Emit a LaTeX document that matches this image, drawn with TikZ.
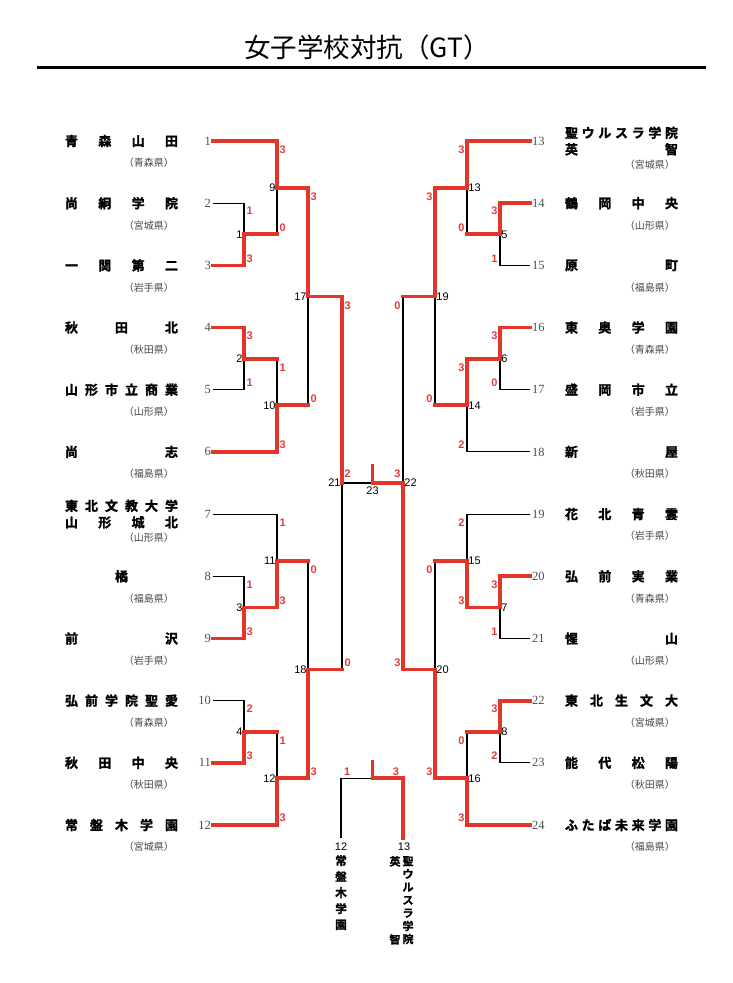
\documentclass[tikz,border=0pt]{standalone}
\usepackage{fontspec}
\usetikzlibrary{calc}
\newfontfamily\jp{Noto Sans CJK JP}[BoldFont={Noto Sans CJK JP Bold},BoldFeatures={FakeBold=1.6}]
\newfontfamily\numserif{Liberation Serif}
\newfontfamily\numsans{Liberation Sans}
\definecolor{wred}{RGB}{226,54,42}
\definecolor{sred}{RGB}{222,62,62}
\definecolor{numgray}{RGB}{80,80,80}
\definecolor{prefgray}{RGB}{70,70,70}
\newcommand\tnm[1]{\makebox[113pt][s]{#1}}
\newcommand\bm[3]{\draw[thinln] (#1) -- (#1 -| #3) -- (#2 -| #3) -- (#2);}
\newcommand\lsc[4]{\node[score,anchor=west] at ($(#1 -| #2)+(1.5,#3)$) {#4};}
\newcommand\rsc[4]{\node[score,anchor=east] at ($(#1 -| #2)+(-1.5,#3)$) {#4};}
\begin{document}
\begin{tikzpicture}[x=1pt,y=-1pt,
  thinln/.style={line width=1.1pt,black},
  winln/.style={line width=3.8pt,wred,line cap=rect,line join=miter},
  tnum/.style={font=\numserif\fontsize{12.5}{13}\selectfont,text=numgray,inner sep=1pt},
  mnum/.style={font=\numsans\fontsize{11}{12}\selectfont,inner sep=1.2pt},
  score/.style={font=\numsans\bfseries\fontsize{11}{12}\selectfont,text=sred,inner sep=0.8pt},
  tname/.style={font=\jp\bfseries\fontsize{13}{16.5}\selectfont,inner sep=0pt,align=center},
  pref/.style={font=\jp\fontsize{10}{11}\selectfont,text=prefgray,inner sep=0pt},
  vtxt/.style={font=\jp\bfseries\fontsize{11.5}{16}\selectfont,inner sep=0pt,align=center},
]
\useasboundingbox (0,0) rectangle (732,983);
\fill[white] (0,0) rectangle (732,983);
% title
\node[font=\jp\fontsize{26.5}{28}\selectfont,inner sep=0pt] (title) at (367,47) {女子学校対抗（GT）};
\draw[line width=3pt] (37,67) coordinate (ruleL) -- (706,67) coordinate (ruleR);

% team end points
\coordinate (t1) at (213,141);   \coordinate (t2) at (213,203.2); \coordinate (t3) at (213,265.4);
\coordinate (t4) at (213,327.5); \coordinate (t5) at (213,389.7); \coordinate (t6) at (213,451.9);
\coordinate (t7) at (213,514.1); \coordinate (t8) at (213,576.3); \coordinate (t9) at (213,638.5);
\coordinate (t10) at (213,700.6); \coordinate (t11) at (213,762.8); \coordinate (t12) at (213,825);
\coordinate (t13) at (530,141);   \coordinate (t14) at (530,203.2); \coordinate (t15) at (530,265.4);
\coordinate (t16) at (530,327.5); \coordinate (t17) at (530,389.7); \coordinate (t18) at (530,451.9);
\coordinate (t19) at (530,514.1); \coordinate (t20) at (530,576.3); \coordinate (t21) at (530,638.5);
\coordinate (t22) at (530,700.6); \coordinate (t23) at (530,762.8); \coordinate (t24) at (530,825);
% junctions
\coordinate (m1) at (244,234.3); \coordinate (m2) at (244,358.6); \coordinate (m3) at (244,607.4); \coordinate (m4) at (244,731.7);
\coordinate (m9) at (277,187.65); \coordinate (m10) at (277,405.25); \coordinate (m11) at (277,560.75); \coordinate (m12) at (277,778.35);
\coordinate (m17) at (308,296.45); \coordinate (m18) at (308,669.55); \coordinate (m21) at (342,483);
\coordinate (m5) at (500,234.3); \coordinate (m6) at (500,358.6); \coordinate (m7) at (500,607.4); \coordinate (m8) at (500,731.7);
\coordinate (m13) at (467,187.65); \coordinate (m14) at (467,405.25); \coordinate (m15) at (467,560.75); \coordinate (m16) at (467,778.35);
\coordinate (m19) at (435,296.45); \coordinate (m20) at (435,669.55); \coordinate (m22) at (403,483);
\coordinate (m23) at (372.5,483); \coordinate (w23) at (372.5,466);
\coordinate (tp) at (372.5,778.35); \coordinate (tpw) at (372.5,762);
\coordinate (q12) at (341,838); \coordinate (q13) at (403,838);

% black lines
\bm{t2}{t3}{m1} \bm{t4}{t5}{m2} \bm{t8}{t9}{m3} \bm{t10}{t11}{m4}
\bm{t1}{m1}{m9} \bm{m2}{t6}{m10} \bm{t7}{m3}{m11} \bm{m4}{t12}{m12}
\bm{m9}{m10}{m17} \bm{m11}{m12}{m18} \bm{m17}{m18}{m21}
\bm{t14}{t15}{m5} \bm{t16}{t17}{m6} \bm{t20}{t21}{m7} \bm{t22}{t23}{m8}
\bm{t13}{m5}{m13} \bm{m6}{t18}{m14} \bm{t19}{m7}{m15} \bm{m8}{t24}{m16}
\bm{m13}{m14}{m19} \bm{m15}{m16}{m20} \bm{m19}{m20}{m22}
\draw[thinln] (m21) -- (m22);
\draw[thinln] (q12) -- (q12 |- tp) -- (q13 |- tp) -- (q13);

% red lines
\draw[winln] (t1) -- (t1 -| m9) -- (m9) -- (m9 -| m17) -- (m17) -- (m17 -| m21) -- (m21);
\draw[winln] (t3) -- (t3 -| m1) -- (m1) -- (m1 -| m9);
\draw[winln] (t4) -- (t4 -| m2) -- (m2) -- (m2 -| m10);
\draw[winln] (t6) -- (t6 -| m10) -- (m10) -- (m10 -| m17);
\draw[winln] (t9) -- (t9 -| m3) -- (m3) -- (m3 -| m11) -- (m11) -- (m11 -| m18);
\draw[winln] (t11) -- (t11 -| m4) -- (m4) -- (m4 -| m12);
\draw[winln] (t12) -- (t12 -| m12) -- (m12) -- (m12 -| m18) -- (m18) -- (m18 -| m21);
\draw[winln] (t13) -- (t13 -| m13) -- (m13) -- (m13 -| m19) -- (m19) -- (m19 -| m22);
\draw[winln] (t14) -- (t14 -| m5) -- (m5) -- (m5 -| m13);
\draw[winln] (t16) -- (t16 -| m6) -- (m6) -- (m6 -| m14) -- (m14) -- (m14 -| m19);
\draw[winln] (t20) -- (t20 -| m7) -- (m7) -- (m7 -| m15) -- (m15) -- (m15 -| m20);
\draw[winln] (t22) -- (t22 -| m8) -- (m8) -- (m8 -| m16);
\draw[winln] (t24) -- (t24 -| m16) -- (m16) -- (m16 -| m20) -- (m20) -- (m20 -| m22) -- (m22) -- (m23) -- (w23);
\draw[winln] (q13) -- (q13 |- tp) -- (tp) -- (tpw);

% scores left
\lsc{t2}{m1}{8}{1} \lsc{t3}{m1}{-7}{3}
\lsc{t1}{m9}{9}{3} \lsc{m1}{m9}{-7}{0}
\lsc{t4}{m2}{8}{3} \lsc{t5}{m2}{-7}{1}
\lsc{m2}{m10}{9}{1} \lsc{t6}{m10}{-7}{3}
\lsc{m9}{m17}{9}{3} \lsc{m10}{m17}{-7}{0}
\lsc{t8}{m3}{8}{1} \lsc{t9}{m3}{-7}{3}
\lsc{t7}{m11}{9}{1} \lsc{m3}{m11}{-7}{3}
\lsc{t10}{m4}{8}{2} \lsc{t11}{m4}{-7}{3}
\lsc{m4}{m12}{9}{1} \lsc{t12}{m12}{-7}{3}
\lsc{m11}{m18}{9}{0} \lsc{m12}{m18}{-7}{3}
\lsc{m17}{m21}{9}{3} \lsc{m18}{m21}{-7}{0}
% scores right
\rsc{t14}{m5}{8}{3} \rsc{t15}{m5}{-7}{1}
\rsc{t13}{m13}{9}{3} \rsc{m5}{m13}{-7}{0}
\rsc{t16}{m6}{8}{3} \rsc{t17}{m6}{-7}{0}
\rsc{m6}{m14}{9}{3} \rsc{t18}{m14}{-7}{2}
\rsc{m13}{m19}{9}{3} \rsc{m14}{m19}{-7}{0}
\rsc{t20}{m7}{8}{3} \rsc{t21}{m7}{-7}{1}
\rsc{t19}{m15}{9}{2} \rsc{m7}{m15}{-7}{3}
\rsc{t22}{m8}{8}{3} \rsc{t23}{m8}{-7}{2}
\rsc{m8}{m16}{9}{0} \rsc{t24}{m16}{-7}{3}
\rsc{m15}{m20}{9}{0} \rsc{m16}{m20}{-7}{3}
\rsc{m19}{m22}{9}{0} \rsc{m20}{m22}{-7}{3}
% final and third place scores
\node[score,anchor=west] at ($(m21)+(1.5,-9)$) {2};
\node[score,anchor=east] at ($(m22)+(-1.5,-9)$) {3};
\node[score,anchor=west] at ($(q12 |- tp)+(2,-7)$) {1};
\node[score,anchor=east] at ($(q13 |- tp)+(-3,-7)$) {3};

% match numbers
\foreach \m in {1,2,3,4,9,10,11,12,17,18,21} \node[mnum,anchor=east] (lm\m) at (m\m) {\m};
\foreach \m in {5,6,7,8,13,14,15,16,19,20,22} \node[mnum,anchor=west] (rm\m) at (m\m) {\m};
\node[mnum,anchor=north] (lm23) at ($(m23)+(0,2)$) {23};

% team numbers
\foreach \t in {1,...,12} \node[tnum,anchor=east] (n\t) at ($(t\t)+(-1,0)$) {\t};
\foreach \t in {13,...,24} \node[tnum,anchor=west] (n\t) at ($(t\t)+(1,0)$) {\t};

% left names
\node[tname] (a1) at (121.5,141) {\tnm{青\hfill 森\hfill 山\hfill 田}};
\node[tname] (a2) at (121.5,203.2) {\tnm{尚\hfill 絅\hfill 学\hfill 院}};
\node[tname] (a3) at (121.5,265.4) {\tnm{一\hfill 関\hfill 第\hfill 二}};
\node[tname] (a4) at (121.5,327.5) {\tnm{秋\hfill 田\hfill 北}};
\node[tname] (a5) at (121.5,389.7) {\tnm{山\hfill 形\hfill 市\hfill 立\hfill 商\hfill 業}};
\node[tname] (a6) at (121.5,451.9) {\tnm{尚\hfill 志}};
\node[tname] (a7) at (121.5,514.1) {\tnm{東\hfill 北\hfill 文\hfill 教\hfill 大\hfill 学}\\\tnm{山\hfill 形\hfill 城\hfill 北}};
\node[tname] (a8) at (121.5,576.3) {橘};
\node[tname] (a9) at (121.5,638.5) {\tnm{前\hfill 沢}};
\node[tname] (a10) at (121.5,700.6) {\tnm{弘\hfill 前\hfill 学\hfill 院\hfill 聖\hfill 愛}};
\node[tname] (a11) at (121.5,762.8) {\tnm{秋\hfill 田\hfill 中\hfill 央}};
\node[tname] (a12) at (121.5,825) {\tnm{常\hfill 盤\hfill 木\hfill 学\hfill 園}};
% right names
\node[tname] (a13) at (621.5,141) {\tnm{聖\hfill ウ\hfill ル\hfill ス\hfill ラ\hfill 学\hfill 院}\\\tnm{英\hfill 智}};
\node[tname] (a14) at (621.5,203.2) {\tnm{鶴\hfill 岡\hfill 中\hfill 央}};
\node[tname] (a15) at (621.5,265.4) {\tnm{原\hfill 町}};
\node[tname] (a16) at (621.5,327.5) {\tnm{東\hfill 奥\hfill 学\hfill 園}};
\node[tname] (a17) at (621.5,389.7) {\tnm{盛\hfill 岡\hfill 市\hfill 立}};
\node[tname] (a18) at (621.5,451.9) {\tnm{新\hfill 屋}};
\node[tname] (a19) at (621.5,514.1) {\tnm{花\hfill 北\hfill 青\hfill 雲}};
\node[tname] (a20) at (621.5,576.3) {\tnm{弘\hfill 前\hfill 実\hfill 業}};
\node[tname] (a21) at (621.5,638.5) {\tnm{惺\hfill 山}};
\node[tname] (a22) at (621.5,700.6) {\tnm{東\hfill 北\hfill 生\hfill 文\hfill 大}};
\node[tname] (a23) at (621.5,762.8) {\tnm{能\hfill 代\hfill 松\hfill 陽}};
\node[tname] (a24) at (621.5,825) {\tnm{ふ\hfill た\hfill ば\hfill 未\hfill 来\hfill 学\hfill 園}};

% prefectures
\node[pref,anchor=east] (p1) at (174,163) {（青森県）};
\node[pref,anchor=east] (p2) at (174,225.2) {（宮城県）};
\node[pref,anchor=east] (p3) at (174,287.4) {（岩手県）};
\node[pref,anchor=east] (p4) at (174,349.5) {（秋田県）};
\node[pref,anchor=east] (p5) at (174,411.7) {（山形県）};
\node[pref,anchor=east] (p6) at (174,473.9) {（福島県）};
\node[pref,anchor=east] (p7) at (174,538) {（山形県）};
\node[pref,anchor=east] (p8) at (174,598.3) {（福島県）};
\node[pref,anchor=east] (p9) at (174,660.5) {（岩手県）};
\node[pref,anchor=east] (p10) at (174,722.6) {（青森県）};
\node[pref,anchor=east] (p11) at (174,784.8) {（秋田県）};
\node[pref,anchor=east] (p12) at (174,847) {（宮城県）};
\node[pref,anchor=east] (p13) at (675,165) {（宮城県）};
\node[pref,anchor=east] (p14) at (675,225.2) {（山形県）};
\node[pref,anchor=east] (p15) at (675,287.4) {（福島県）};
\node[pref,anchor=east] (p16) at (675,349.5) {（青森県）};
\node[pref,anchor=east] (p17) at (675,411.7) {（岩手県）};
\node[pref,anchor=east] (p18) at (675,473.9) {（秋田県）};
\node[pref,anchor=east] (p19) at (675,536.1) {（岩手県）};
\node[pref,anchor=east] (p20) at (675,598.3) {（青森県）};
\node[pref,anchor=east] (p21) at (675,660.5) {（山形県）};
\node[pref,anchor=east] (p22) at (675,722.6) {（宮城県）};
\node[pref,anchor=east] (p23) at (675,784.8) {（秋田県）};
\node[pref,anchor=east] (p24) at (675,847) {（福島県）};

% third place labels
\node[mnum,anchor=north] (b12) at ($(q12)+(0,3)$) {12};
\node[mnum,anchor=north] (b13) at ($(q13)+(1,3)$) {13};
\node[vtxt,anchor=north] (v12) at (341,855) {常\\盤\\木\\学\\園};
\node[vtxt,anchor=north,font=\jp\bfseries\fontsize{11}{13}\selectfont] (v13) at (408,856) {聖\\ウ\\ル\\ス\\ラ\\学\\院};
\node[vtxt,anchor=north,font=\jp\bfseries\fontsize{11}{13}\selectfont] (v13a) at (395,856) {英};
\node[vtxt,anchor=north,font=\jp\bfseries\fontsize{11}{13}\selectfont] (v13b) at (395,934) {智};
\end{tikzpicture}
\end{document}
